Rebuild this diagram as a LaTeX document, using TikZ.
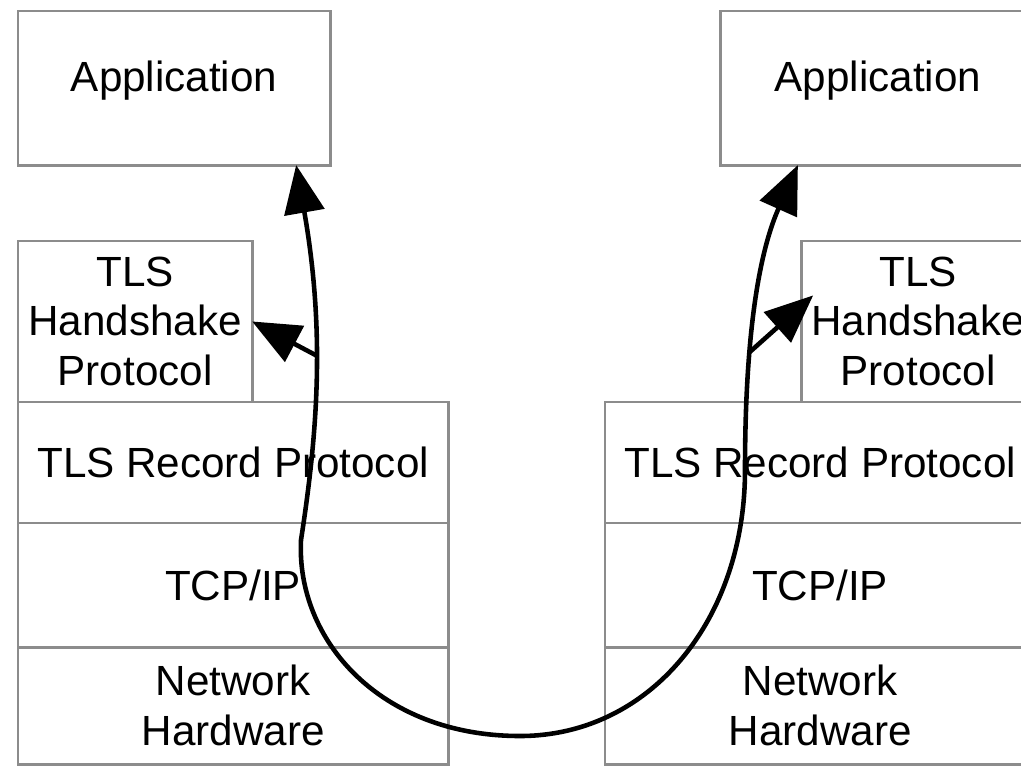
\documentclass[tikz,border=0pt]{standalone}
\usepackage{fontspec}
\setmainfont{Liberation Sans}
\usetikzlibrary{positioning, arrows.meta}
\tikzset{
    stackbox/.style={rectangle, draw=black!45, line width=0.8pt, fill=white, inner sep=0pt, outer sep=0pt, align=center}, % one layer of a host stack
    flow/.style={line width=1.3pt, draw=black}, % the path of the data
    flowtip/.style={-{Triangle[length=4.8mm, width=4.0mm]}}
}

\begin{document}
\begin{tikzpicture}[x=0.01cm, y=-0.01cm, node distance=0pt,
        every node/.style={font=\fontsize{12}{14.2}\selectfont}]
    \useasboundingbox (0,0) rectangle (1021,766);
    \clip (0,0) rectangle (1021,766);

    % left host
    \node[stackbox, minimum width=4.3cm, minimum height=1.21cm, anchor=north west] (recL) at (18,402) {TLS Record Protocol};
    \node[stackbox, minimum width=4.3cm, minimum height=1.24cm, below=of recL] (tcpL) {TCP/IP};
    \node[stackbox, minimum width=4.3cm, minimum height=1.17cm, below=of tcpL] (hwL) {Network\\Hardware};
    \node[stackbox, minimum width=2.34cm, minimum height=1.61cm, above=of recL.north west, anchor=south west] (hsL) {TLS\\Handshake\\Protocol};
    \node[stackbox, minimum width=3.12cm, minimum height=1.54cm, text depth=0.23cm, anchor=north west] (appL) at (18,11) {Application};

    % right host
    \node[stackbox, minimum width=4.3cm, minimum height=1.21cm, anchor=north west] (recR) at (605,402) {TLS Record Protocol};
    \node[stackbox, minimum width=4.3cm, minimum height=1.24cm, below=of recR] (tcpR) {TCP/IP};
    \node[stackbox, minimum width=4.3cm, minimum height=1.17cm, below=of tcpR] (hwR) {Network\\Hardware};
    \node[stackbox, minimum width=2.34cm, minimum height=1.61cm, above=of recR.north east, anchor=south east] (hsR) {TLS\\Handshake\\Protocol};
    \node[stackbox, minimum width=3.14cm, minimum height=1.54cm, text depth=0.23cm, anchor=north east] (appR) at (1035,11) {Application};

    \draw[flow, {Triangle[length=4.8mm, width=4.0mm]}-{Triangle[length=4.8mm, width=4.0mm]}]
        ([xshift=-0.34cm]appL.south east) .. controls (325,330) and (318,430) .. coordinate[pos=0.45] (jL) (301,540)
        .. controls (296,640) and (380,736) .. (520,736)
        .. controls (650,736) and (745,620) .. (745,470)
        .. controls (745,330) and (760,250) .. coordinate[pos=0.32] (jR) ([xshift=0.77cm]appR.south west);
    \draw[flow, flowtip] (jL) -- (hsL.east);
    \draw[flow, flowtip] (jR) -- ([xshift=0.12cm, yshift=0.26cm]hsR.west);
\end{tikzpicture}
\end{document}
